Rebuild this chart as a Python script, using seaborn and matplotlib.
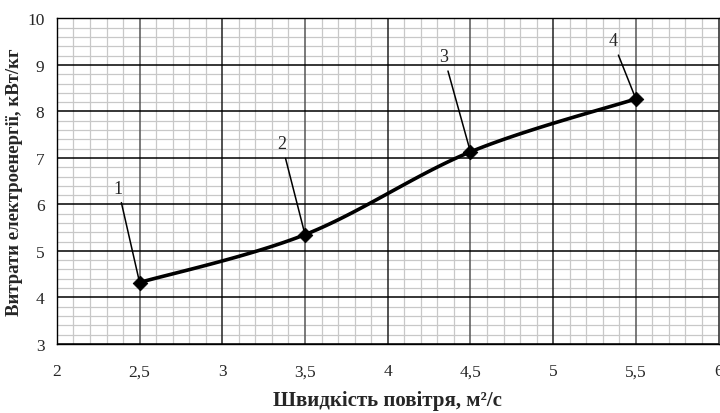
import numpy as np
import pandas as pd
import matplotlib
matplotlib.use("Agg")
import matplotlib.pyplot as plt
from matplotlib.ticker import MultipleLocator, FuncFormatter
import seaborn as sns

# ---- data ----
air_speed = [2.5, 3.5, 4.5, 5.5]
energy = [4.32, 5.35, 7.13, 8.27]
point_labels = ["1", "2", "3", "4"]
x_ticks = [2, 2.5, 3, 3.5, 4, 4.5, 5, 5.5, 6]
y_ticks = [3, 4, 5, 6, 7, 8, 9, 10]

sns.set_style("white")
plt.rcParams["font.family"] = ["Liberation Serif", "DejaVu Serif"]

fig = plt.figure(figsize=(7.2, 4.14), dpi=100)
ax = fig.add_axes([0.079, 0.167, 0.919, 0.786])

# smoothed curve (Excel-like Bezier through the points)
P = np.column_stack([air_speed, energy])
Pext = np.vstack([P[0], P, P[-1]])
segs = []
t = np.linspace(0, 1, 40)[:, None]
for i in range(len(P) - 1):
    p0, p3 = Pext[i + 1], Pext[i + 2]
    c1 = p0 + (Pext[i + 2] - Pext[i]) / 6
    c2 = p3 - (Pext[i + 3] - Pext[i + 1]) / 6
    seg = ((1 - t) ** 3) * p0 + 3 * ((1 - t) ** 2) * t * c1 + 3 * (1 - t) * t ** 2 * c2 + t ** 3 * p3
    segs.append(seg if i == 0 else seg[1:])
curve = np.vstack(segs)
curve_df = pd.DataFrame({"x": curve[:, 0], "y": curve[:, 1]})
pts_df = pd.DataFrame({"x": air_speed, "y": energy})

sns.lineplot(data=curve_df, x="x", y="y", sort=False, color="black", lw=2.6, ax=ax, zorder=4)
sns.scatterplot(data=pts_df, x="x", y="y", marker="D", s=55, color="black", edgecolor="black", ax=ax, zorder=5)

# label offsets (positions for annotation text)
label_pos = [(2.37, 6.35), (3.36, 7.30), (4.34, 9.18), (5.36, 9.52)]
for lab, px, py, (tx, ty) in zip(point_labels, air_speed, energy, label_pos):
    ax.annotate(lab, xy=(px, py), xytext=(tx, ty), fontsize=13, ha="center", va="center",
                arrowprops=dict(arrowstyle="-", color="black", lw=1.1, shrinkA=2, shrinkB=0), zorder=6)

ax.set_xlim(2, 6)
ax.set_ylim(3, 10)
ax.set_xticks(x_ticks)
ax.set_yticks(y_ticks)
ax.xaxis.set_minor_locator(MultipleLocator(0.1))
ax.yaxis.set_minor_locator(MultipleLocator(0.2))
fmt = FuncFormatter(lambda v, p: ("%g" % v).replace(".", ","))
ax.xaxis.set_major_formatter(fmt)
ax.yaxis.set_major_formatter(fmt)

ax.grid(which="minor", color="#c8c8c8", lw=0.9, zorder=0)
for xv in x_ticks:
    ax.axvline(xv, color="#555555" if xv % 1 else "#222222", lw=1.1, zorder=1)
for yv in y_ticks:
    ax.axhline(yv, color="black", lw=1.1, zorder=1.2)
ax.set_axisbelow(True)

ax.tick_params(axis="both", which="major", direction="out", length=5, width=1, color="black",
               labelsize=12.5, pad=4)
ax.tick_params(axis="x", which="major", pad=9)
ax.tick_params(which="minor", length=0)
for s in ax.spines.values():
    s.set_color("black")
    s.set_linewidth(1)
ax.spines["right"].set_color("#555555")

ax.set_xlabel("Швидкість повітря, м²/с", fontsize=15, fontweight="bold", labelpad=8)
ax.set_ylabel("Витрати електроенергії, кВт/кг", fontsize=13.5, fontweight="bold", labelpad=3)

fig.savefig("out.png", dpi=100)
